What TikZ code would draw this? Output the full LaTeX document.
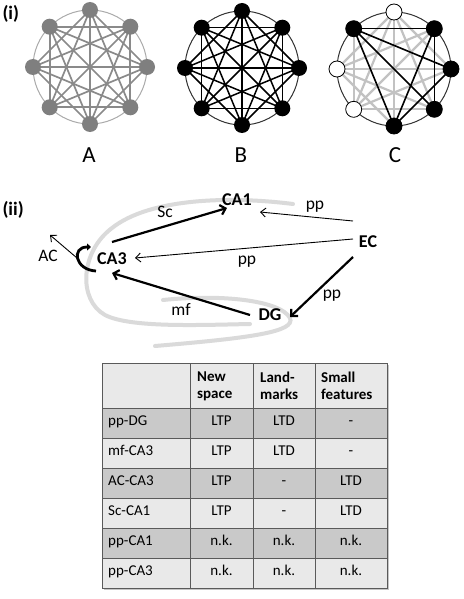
\documentclass[tikz,border=0pt]{standalone}
\usepackage{fontspec}
\setmainfont{Carlito}
\usetikzlibrary{arrows.meta}
\definecolor{nodegray}{HTML}{7F7F7F}
\definecolor{edgegray}{HTML}{8A8A8A}
\definecolor{ringgray}{HTML}{ABABAB}
\definecolor{lightedge}{HTML}{C2C2C2}
\definecolor{hippo}{HTML}{DADADA}
\definecolor{rowdark}{HTML}{C9C9C9}
\definecolor{rowlight}{HTML}{E9E9E9}
\definecolor{gridc}{HTML}{5A5A5A}
\begin{document}
\begin{tikzpicture}[x=1pt,y=-1pt,
  vtx/.style={circle,minimum size=16pt,inner sep=0pt},
  biglab/.style={font=\fontsize{23}{26}\selectfont},
  partlab/.style={font=\bfseries\fontsize{19}{22}\selectfont},
  region/.style={font=\bfseries\fontsize{18}{21}\selectfont,inner sep=1pt},
  plab/.style={font=\fontsize{17.5}{20}\selectfont,inner sep=1pt},
  tcell/.style={font=\fontsize{15}{17}\selectfont,inner sep=0pt,text height=7.5pt,text depth=2.5pt},
  thead/.style={font=\bfseries\fontsize{15}{17}\selectfont,inner sep=0pt,align=left,anchor=west},
  thickarr/.style={line width=2.2pt,-{Straight Barb[length=5pt,width=10pt]}},
  thinarr/.style={line width=0.9pt,-{Straight Barb[length=5pt,width=9pt]}},
  hippoline/.style={draw=hippo,line width=4pt,line cap=round}]
\useasboundingbox (0,0) rectangle (463,599);
\fill[white] (0,0) rectangle (463,599);

% ---------- part (i) ----------
\node[partlab,anchor=west] (pi) at (-1,14) {(i)};

% Graph A
\draw[ringgray,line width=1pt] (90,67) circle[radius=57];
\foreach \i in {0,...,7} \coordinate (A\i) at ([shift={(90,67)}]\i*45:57);
\foreach \i in {0,...,6}{
  \foreach \j in {\i,...,7}{
    \pgfmathtruncatemacro\d{\j-\i}
    \ifnum\d>1 \ifnum\d<7 \draw[edgegray,line width=1.7pt] (A\i)--(A\j); \fi\fi
  }}
\foreach \i in {0,...,7} \node[vtx,fill=nodegray] (nA\i) at (A\i) {};
\node[biglab] (labA) at (89,155) {A};

% Graph B
\draw[black!80,line width=1pt] (242,68) circle[radius=57];
\foreach \i in {0,...,7} \coordinate (B\i) at ([shift={(242,68)}]\i*45:57);
\foreach \i in {0,...,6}{
  \foreach \j in {\i,...,7}{
    \pgfmathtruncatemacro\d{\j-\i}
    \ifnum\d>1 \ifnum\d<7 \draw[black,line width=1.5pt] (B\i)--(B\j); \fi\fi
  }}
\foreach \i in {0,...,7} \node[vtx,fill=black] (nB\i) at (B\i) {};
\node[biglab] (labB) at (241,155) {B};

% Graph C
\draw[black!80,line width=1pt] (394,69) circle[radius=57];
\foreach \i in {0,...,7} \coordinate (C\i) at ([shift={(394,69)}]\i*45:57);
\foreach \i in {0,...,6}{
  \foreach \j in {\i,...,7}{
    \pgfmathtruncatemacro\d{\j-\i}
    \pgfmathtruncatemacro\bb{{1,1,1,0,0,1,0,1}[\i]*{1,1,1,0,0,1,0,1}[\j]}
    \ifnum\d>1 \ifnum\d<7 \ifnum\bb=0 \draw[lightedge,line width=2.2pt] (C\i)--(C\j); \fi\fi\fi
  }}
\foreach \i in {0,...,6}{
  \foreach \j in {\i,...,7}{
    \pgfmathtruncatemacro\d{\j-\i}
    \pgfmathtruncatemacro\bb{{1,1,1,0,0,1,0,1}[\i]*{1,1,1,0,0,1,0,1}[\j]}
    \ifnum\d>1 \ifnum\d<7 \ifnum\bb=1 \draw[black,line width=1.6pt] (C\i)--(C\j); \fi\fi\fi
  }}
\foreach \i/\f in {0/black,1/black,2/black,3/white,4/white,5/black,6/white,7/black}
  \node[vtx,fill=\f,draw=black,line width=0.8pt] (nC\i) at (C\i) {};
\node[biglab] (labC) at (395,155) {C};

% ---------- part (ii) ----------
\node[partlab,anchor=west] (pii) at (-1,210) {(ii)};

% hippocampus outline
\draw[hippoline] (293,204) .. controls (230,196) and (150,198) .. (112,228)
  .. controls (80,252) and (78,300) .. (105,315)
  .. controls (130,328) and (200,325) .. (250,324);
\draw[hippoline] (163,300) .. controls (220,294) and (280,300) .. (290,318)
  .. controls (296,332) and (250,338) .. (155,346);

% region labels
\node[region] (CA1) at (237,200) {CA1};
\node[region] (EC)  at (368,242) {EC};
\node[region] (CA3) at (112,259) {CA3};
\node[region] (DG)  at (270,315) {DG};
\node[plab] (AC) at (48,256) {AC};

% recurrent collaterals
\draw[line width=2.8pt,-{Triangle[length=4pt,width=7pt]}] (96,271) .. controls (75,270) and (71,247) .. (91,247);

% connections
\draw[thickarr] ([shift={(0,-17)}]CA3.center) -- ([shift={(-10,8)}]CA1.center);
\draw[thinarr]  ([shift={(-15,-21)}]EC.center) -- ([shift={(23,12)}]CA1.center);
\draw[thinarr]  ([shift={(-15,-3)}]EC.center) -- ([shift={(23,-1)}]CA3.center);
\draw[thickarr] ([shift={(-15,15)}]EC.center) -- ([shift={(20,2)}]DG.center);
\draw[thickarr] ([shift={(-20,0)}]DG.center) -- ([shift={(0,14)}]CA3.center);
\draw[thinarr]  ([shift={(-35,-1)}]CA3.center) -- ([shift={(2,-21)}]AC.center);

\node[plab] (Sc)   at (165,212) {Sc};
\node[plab] (pp1)  at (315,207) {pp};
\node[plab] (pp2)  at (247,262) {pp};
\node[plab] (pp3)  at (332,296) {pp};
\node[plab] (mf)   at (181,309) {mf};

% ---------- table ----------
\fill[gray!45] (104,365) rectangle (389,590);
\fill[rowlight] (102,363) rectangle (387,408);
\foreach \k in {1,...,6}{
  \pgfmathtruncatemacro\odd{mod(\k,2)}
  \ifnum\odd=1 \fill[rowdark] (102,378+30*\k) rectangle (387,408+30*\k);
  \else \fill[rowlight] (102,378+30*\k) rectangle (387,408+30*\k); \fi
}
\foreach \y in {408,438,...,558} \draw[gridc,line width=0.8pt] (102,\y) -- (387,\y);
\foreach \x in {190,253,315} \draw[gridc,line width=0.8pt] (\x,363) -- (\x,588);
\draw[gridc,line width=1pt] (102,363) rectangle (387,588);

\node[thead] (h1) at (197,386) {New\\space};
\node[thead] (h2) at (260,386) {Land-\\marks};
\node[thead] (h3) at (321,386) {Small\\features};

\foreach \r/\a/\b/\c [count=\k] in {pp-DG/LTP/LTD/-, mf-CA3/LTP/LTD/-, AC-CA3/LTP/-/LTD,
    Sc-CA1/LTP/-/LTD, pp-CA1/n.k./n.k./n.k., pp-CA3/n.k./n.k./n.k.}{
  \node[tcell,anchor=west] (r\k) at (108,393+30*\k) {\r};
  \node[tcell] (ra\k) at (221.5,393+30*\k) {\a};
  \node[tcell] (rb\k) at (284,393+30*\k) {\b};
  \node[tcell] (rc\k) at (351,393+30*\k) {\c};
}
\end{tikzpicture}
\end{document}
